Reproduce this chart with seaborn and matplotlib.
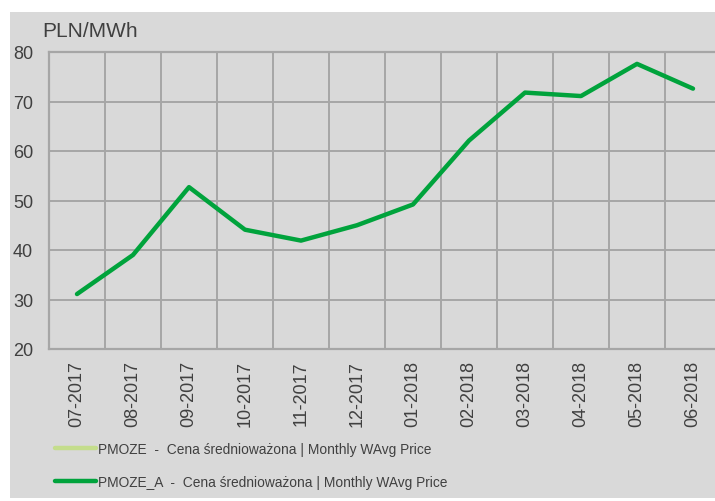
import numpy as np
import pandas as pd
import matplotlib
matplotlib.use("Agg")
import matplotlib.pyplot as plt
from matplotlib.lines import Line2D
from matplotlib.patches import Rectangle
from matplotlib.ticker import FixedLocator
import seaborn as sns

months = ["07-2017", "08-2017", "09-2017", "10-2017", "11-2017", "12-2017",
          "01-2018", "02-2018", "03-2018", "04-2018", "05-2018", "06-2018"]
pmoze_a = [31.1, 39.0, 52.7, 44.1, 41.9, 45.0, 49.2, 62.1, 71.8, 71.1, 77.6, 72.6]
series_labels = ["PMOZE  -  Cena średnioważona | Monthly WAvg Price",
                 "PMOZE_A  -  Cena średnioważona | Monthly WAvg Price"]
series_colors = ["#c4dd8c", "#00a33c"]

data = pd.DataFrame({"month": months, "price": pmoze_a})

sns.set_style("white")
plt.rcParams["font.family"] = ["Liberation Sans", "DejaVu Sans"]
text_col = "#404040"
grid_col = "#a6a6a6"
bg = "#d9d9d9"

fig = plt.figure(figsize=(7.15, 5.02), dpi=100)
fig.patches.append(Rectangle((10 / 715, 3 / 502), 705 / 715, 486 / 502,
                             transform=fig.transFigure, facecolor=bg,
                             edgecolor="none", zorder=-10))

ax = fig.add_axes([49 / 715, 152 / 502, 672 / 715, 297 / 502])
ax.set_facecolor(bg)

sns.lineplot(data=data, x="month", y="price", color=series_colors[1],
             linewidth=3.2, sort=False, ax=ax, solid_capstyle="round")

ax.set_xlim(-0.5, len(months) - 0.5)
ax.set_ylim(20, 80)
ax.set_yticks([20, 30, 40, 50, 60, 70, 80])
ax.xaxis.set_minor_locator(FixedLocator(np.arange(-0.5, len(months), 1.0)))
ax.grid(False)
ax.grid(True, axis="y", which="major", color=grid_col, linewidth=1.4)
ax.grid(True, axis="x", which="minor", color=grid_col, linewidth=1.4)
ax.set_axisbelow(True)
for s in ax.spines.values():
    s.set_color(grid_col)
    s.set_linewidth(1.6)

ax.tick_params(axis="both", which="both", length=0, labelsize=13,
               labelcolor=text_col)
ax.tick_params(axis="y", pad=11.5)
ax.tick_params(axis="x", pad=8)
plt.setp(ax.get_xticklabels(), rotation=90)
ax.set_xlabel("")
ax.set_ylabel("")

fig.text(42 / 715, 1 - 32 / 502, "PLN/MWh", fontsize=15, color=text_col,
         ha="left", va="center")

handles = [Line2D([], [], color=c, linewidth=3.2) for c in series_colors]
leg = fig.legend(handles, series_labels, loc="upper left",
                 bbox_to_anchor=(55 / 715, 1 - 443 / 502), frameon=False,
                 borderpad=0, borderaxespad=0,
                 handlelength=3.0, handletextpad=0.15, labelspacing=1.4,
                 prop={"size": 9.9})
for t in leg.get_texts():
    t.set_color(text_col)

fig.savefig("out.png", dpi=100)
